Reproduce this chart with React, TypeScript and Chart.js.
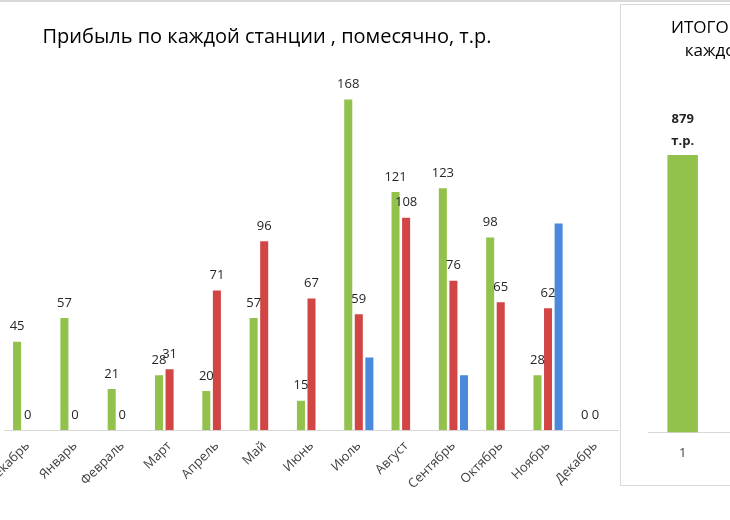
import React, { useEffect, useRef } from "react";
import { Chart, registerables } from "chart.js";

Chart.register(...registerables);

const months = [
  "Декабрь", "Январь", "Февраль", "Март", "Апрель", "Май", "Июнь",
  "Июль", "Август", "Сентябрь", "Октябрь", "Ноябрь", "Декабрь",
];
const station1 = [45, 57, 21, 28, 20, 57, 15, 168, 121, 123, 98, 28, 0];
const station2 = [0, 0, 0, 31, 71, 96, 67, 59, 108, 76, 65, 62, 0];
const station3 = [null, null, null, null, null, null, null, 37, null, 28, null, 105, null];

const totalLabels = ["1", "2", "3"];
const totalValues = [879, 635, 170];

const mainTitle = "Прибыль по каждой станции , помесячно, т.р.";
const totalTitle = ["ИТОГО прибыль по", "каждой станции"];

const GREEN = "#92C14C";
const RED = "#D24545";
const BLUE = "#4A89DC";
const FONT = "'Open Sans', 'Noto Sans', sans-serif";

const valueLabels = {
  id: "valueLabels",
  afterDatasetsDraw(chart: any) {
    const { ctx } = chart;
    ctx.save();
    ctx.font = `13px ${FONT}`;
    ctx.fillStyle = "#262626";
    ctx.textAlign = "center";
    ctx.textBaseline = "middle";
    [0, 1].forEach((di) => {
      const meta = chart.getDatasetMeta(di);
      const data = chart.data.datasets[di].data;
      meta.data.forEach((bar: any, i: number) => {
        const v = data[i];
        if (v === null || v === undefined) return;
        ctx.fillText(String(v), bar.x, bar.y - 15);
      });
    });
    ctx.restore();
  },
};

const centeredTitle = {
  id: "centeredTitle",
  afterDraw(chart: any) {
    const { ctx } = chart;
    ctx.save();
    ctx.font = `20px ${FONT}`;
    ctx.fillStyle = "#000";
    ctx.textAlign = "center";
    ctx.textBaseline = "alphabetic";
    ctx.fillText(mainTitle, chart.width / 2, 43);
    ctx.restore();
  },
};

const totalLabel = {
  id: "totalLabel",
  afterDatasetsDraw(chart: any) {
    const { ctx } = chart;
    ctx.save();
    ctx.font = `bold 13px ${FONT}`;
    ctx.fillStyle = "#262626";
    ctx.textAlign = "center";
    ctx.textBaseline = "middle";
    const meta = chart.getDatasetMeta(0);
    const data = chart.data.datasets[0].data;
    meta.data.forEach((bar: any, i: number) => {
      ctx.fillText(String(data[i]), bar.x, bar.y - 36);
      ctx.fillText("т.р.", bar.x, bar.y - 14);
    });
    ctx.restore();
  },
};

export default function App() {
  const mainRef = useRef<HTMLCanvasElement>(null);
  const totRef = useRef<HTMLCanvasElement>(null);

  useEffect(() => {
    const c1 = new Chart(mainRef.current!, {
      type: "bar",
      data: {
        labels: months,
        datasets: [
          { data: station1, backgroundColor: GREEN, barPercentage: 0.76, categoryPercentage: 0.67 },
          { data: station2, backgroundColor: RED, barPercentage: 0.76, categoryPercentage: 0.67 },
          { data: station3 as any, backgroundColor: BLUE, barPercentage: 0.76, categoryPercentage: 0.67 },
        ],
      },
      options: {
        responsive: false,
        animation: false,
        layout: { padding: { left: 89, right: 0, top: 76, bottom: 20 } },
        plugins: {
          legend: { display: false },
          tooltip: { enabled: false },
          title: { display: false },
        },
        scales: {
          x: {
            grid: { display: false, drawTicks: false },
            border: { color: "#d9d9d9" },
            ticks: {
              autoSkip: false,
              minRotation: 45,
              maxRotation: 45,
              padding: 8,
              color: "#404040",
              font: { family: FONT, size: 13 },
            },
          },
          y: { display: false, min: 0, max: 180 },
        },
      },
      plugins: [valueLabels, centeredTitle],
    });

    const c2 = new Chart(totRef.current!, {
      type: "bar",
      data: {
        labels: totalLabels,
        datasets: [
          {
            data: totalValues,
            backgroundColor: [GREEN, RED, BLUE],
            barPercentage: 0.44,
            categoryPercentage: 1,
          },
        ],
      },
      options: {
        responsive: false,
        animation: false,
        layout: { padding: { left: 27, right: 40, top: 0, bottom: 11 } },
        plugins: {
          legend: { display: false },
          tooltip: { enabled: false },
          title: {
            display: true,
            text: totalTitle,
            color: "#000",
            font: { family: FONT, size: 17, weight: "normal", lineHeight: 1.35 },
            padding: { top: 12, bottom: 54 },
          },
        },
        scales: {
          x: {
            grid: { display: false, drawTicks: false },
            border: { color: "#d9d9d9" },
            ticks: { padding: 13, color: "#404040", font: { family: FONT, size: 13 } },
          },
          y: { display: false, min: 0, max: 1000 },
        },
      },
      plugins: [totalLabel],
    });

    return () => {
      c1.destroy();
      c2.destroy();
    };
  }, []);

  return (
    <div
      style={{
        position: "fixed",
        left: 0,
        top: 0,
        width: 730,
        height: 520,
        overflow: "hidden",
        background: "#fff",
      }}
    >
      <div style={{ position: "absolute", left: 0, top: 0, width: 730, height: 2, background: "#d9d9d9" }} />
      <canvas
        ref={mainRef}
        width={704}
        height={520}
        style={{ position: "absolute", left: -85, top: 0 }}
      />
      <div
        style={{
          position: "absolute",
          left: 620,
          top: 4,
          width: 300,
          height: 480,
          border: "1px solid #d9d9d9",
          background: "#fff",
        }}
      >
        <canvas ref={totRef} width={275} height={480} style={{ display: "block" }} />
      </div>
    </div>
  );
}
